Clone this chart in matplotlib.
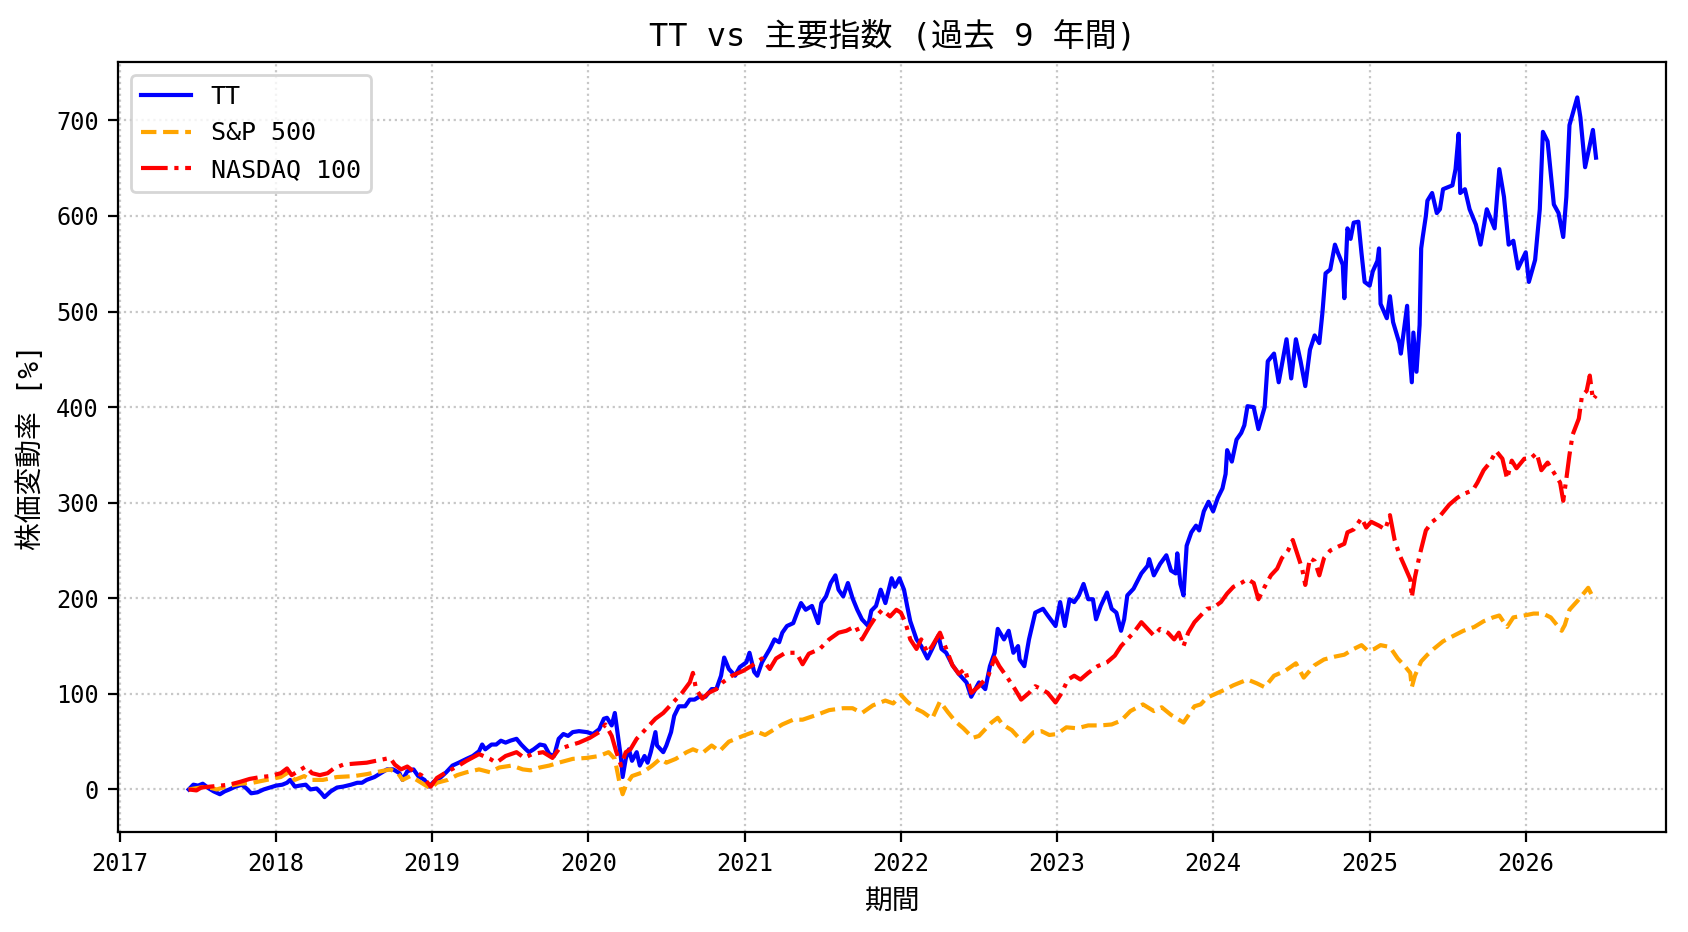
import numpy as np
import pandas as pd
import matplotlib
matplotlib.use("Agg")
import matplotlib.pyplot as plt

plt.rcParams['font.family'] = ['DejaVu Sans Mono', 'Noto Sans CJK JP']

# values (decimal year -> % change)
tt_years = [2017.44, 2017.47, 2017.50, 2017.53, 2017.57, 2017.60, 2017.64, 2017.67, 2017.70, 2017.74,
            2017.78, 2017.81, 2017.84, 2017.88, 2017.92, 2017.96, 2018.00, 2018.04, 2018.07, 2018.09,
            2018.12, 2018.15, 2018.19, 2018.22, 2018.26, 2018.29, 2018.31, 2018.35, 2018.39, 2018.43,
            2018.48, 2018.52, 2018.55, 2018.58, 2018.63, 2018.67, 2018.71, 2018.75, 2018.79, 2018.81,
            2018.84, 2018.88, 2018.91, 2018.95, 2018.98, 2019.01, 2019.05, 2019.09, 2019.13, 2019.17,
            2019.22, 2019.26, 2019.30, 2019.32, 2019.34, 2019.38, 2019.41, 2019.44, 2019.47, 2019.50,
            2019.54, 2019.57, 2019.60, 2019.62, 2019.65, 2019.69, 2019.72, 2019.75, 2019.78, 2019.81,
            2019.84, 2019.87, 2019.90, 2019.94, 2019.99, 2020.03, 2020.07, 2020.10, 2020.12, 2020.15,
            2020.17, 2020.19, 2020.21, 2020.22, 2020.24, 2020.26, 2020.28, 2020.31, 2020.33, 2020.36,
            2020.38, 2020.40, 2020.43, 2020.44, 2020.48, 2020.50, 2020.53, 2020.55, 2020.58, 2020.62,
            2020.65, 2020.68, 2020.71, 2020.75, 2020.79, 2020.82, 2020.85, 2020.87, 2020.90, 2020.94,
            2020.97, 2021.01, 2021.03, 2021.06, 2021.08, 2021.11, 2021.16, 2021.19, 2021.22, 2021.24,
            2021.27, 2021.31, 2021.34, 2021.36, 2021.39, 2021.43, 2021.47, 2021.49, 2021.52, 2021.55,
            2021.58, 2021.60, 2021.63, 2021.66, 2021.69, 2021.72, 2021.75, 2021.79, 2021.81, 2021.84,
            2021.87, 2021.90, 2021.94, 2021.96, 2021.99, 2022.02, 2022.04, 2022.06, 2022.10, 2022.13,
            2022.17, 2022.20, 2022.24, 2022.26, 2022.29, 2022.33, 2022.37, 2022.42, 2022.45, 2022.50,
            2022.54, 2022.57, 2022.60, 2022.62, 2022.66, 2022.69, 2022.72, 2022.75, 2022.76, 2022.79,
            2022.82, 2022.86, 2022.91, 2022.94, 2022.99, 2023.02, 2023.05, 2023.08, 2023.11, 2023.14,
            2023.17, 2023.20, 2023.23, 2023.25, 2023.28, 2023.32, 2023.35, 2023.38, 2023.41, 2023.43,
            2023.45, 2023.49, 2023.54, 2023.58, 2023.59, 2023.62, 2023.66, 2023.70, 2023.73, 2023.76,
            2023.77, 2023.79, 2023.81, 2023.83, 2023.86, 2023.89, 2023.91, 2023.94, 2023.97, 2024.00,
            2024.03, 2024.06, 2024.08, 2024.09, 2024.12, 2024.15, 2024.18, 2024.20, 2024.22, 2024.26,
            2024.29, 2024.33, 2024.35, 2024.39, 2024.42, 2024.47, 2024.50, 2024.53, 2024.56, 2024.59,
            2024.62, 2024.65, 2024.68, 2024.70, 2024.72, 2024.75, 2024.78, 2024.80, 2024.83, 2024.84,
            2024.86, 2024.88, 2024.90, 2024.93, 2024.95, 2024.97, 2025.00, 2025.02, 2025.05, 2025.06,
            2025.07, 2025.11, 2025.13, 2025.15, 2025.17, 2025.19, 2025.20, 2025.24, 2025.25, 2025.27,
            2025.28, 2025.30, 2025.32, 2025.33, 2025.34, 2025.36, 2025.37, 2025.40, 2025.43, 2025.45,
            2025.47, 2025.53, 2025.55, 2025.57, 2025.58, 2025.61, 2025.64, 2025.68, 2025.71, 2025.75,
            2025.80, 2025.83, 2025.86, 2025.89, 2025.92, 2025.95, 2026.00, 2026.02, 2026.06, 2026.09,
            2026.11, 2026.14, 2026.18, 2026.21, 2026.24, 2026.26, 2026.28, 2026.33, 2026.35, 2026.38,
            2026.41, 2026.43, 2026.45]
tt_vals = [0, 5, 4, 6, 1, -2, -5, -2, 0, 3,
           5, 1, -4, -3, 0, 2, 4, 5, 7, 10,
           3, 4, 5, 0, 1, -4, -8, -2, 2, 3,
           5, 7, 7, 10, 13, 17, 21, 21, 17, 10,
           19, 21, 14, 10, 3, 8, 12, 18, 25, 28,
           32, 35, 40, 47, 42, 47, 47, 51, 49, 51,
           53, 47, 42, 39, 42, 47, 46, 37, 35, 53,
           58, 56, 60, 61, 60, 58, 63, 74, 75, 67,
           80, 56, 32, 13, 32, 42, 30, 39, 25, 35,
           28, 39, 60, 46, 39, 46, 60, 77, 87, 87,
           94, 94, 97, 97, 105, 105, 119, 138, 126, 119,
           128, 133, 143, 123, 119, 133, 147, 157, 154, 164,
           171, 174, 187, 195, 188, 192, 174, 195, 202, 216,
           224, 209, 202, 216, 200, 188, 178, 171, 187, 192,
           209, 195, 221, 212, 221, 209, 192, 176, 157, 150,
           137, 147, 161, 147, 143, 130, 121, 112, 97, 112,
           105, 129, 143, 168, 157, 166, 143, 150, 136, 129,
           157, 185, 189, 182, 171, 196, 171, 199, 196, 203,
           215, 199, 199, 178, 192, 206, 189, 185, 166, 178,
           203, 210, 226, 234, 241, 224, 236, 245, 229, 226,
           247, 215, 203, 255, 269, 276, 271, 291, 301, 291,
           305, 315, 330, 355, 343, 366, 373, 381, 401, 400,
           377, 400, 448, 456, 426, 471, 430, 471, 448, 422,
           460, 475, 467, 499, 540, 544, 570, 561, 549, 514,
           587, 576, 593, 594, 561, 531, 527, 542, 553, 566,
           508, 493, 516, 489, 478, 467, 456, 506, 467, 426,
           478, 437, 486, 566, 578, 600, 616, 624, 603, 607,
           628, 632, 649, 686, 624, 628, 607, 591, 570, 607,
           587, 649, 620, 570, 574, 545, 562, 531, 554, 607,
           688, 678, 612, 603, 578, 620, 695, 724, 703, 651,
           674, 690, 661]

sp_years = [2017.44, 2017.55, 2017.62, 2017.68, 2017.77, 2017.85, 2017.94, 2018.03, 2018.08, 2018.12,
            2018.18, 2018.22, 2018.30, 2018.39, 2018.50, 2018.58, 2018.67, 2018.73, 2018.78, 2018.81,
            2018.86, 2018.93, 2018.99, 2019.03, 2019.10, 2019.16, 2019.22, 2019.30, 2019.37, 2019.43,
            2019.51, 2019.58, 2019.63, 2019.69, 2019.75, 2019.81, 2019.90, 2019.99, 2020.07, 2020.13,
            2020.17, 2020.20, 2020.22, 2020.24, 2020.28, 2020.35, 2020.41, 2020.46, 2020.50, 2020.56,
            2020.63, 2020.67, 2020.73, 2020.79, 2020.84, 2020.90, 2020.99, 2021.07, 2021.13, 2021.18,
            2021.24, 2021.31, 2021.37, 2021.46, 2021.54, 2021.63, 2021.69, 2021.75, 2021.82, 2021.90,
            2021.95, 2022.00, 2022.04, 2022.09, 2022.14, 2022.20, 2022.25, 2022.30, 2022.35, 2022.40,
            2022.46, 2022.50, 2022.58, 2022.62, 2022.65, 2022.71, 2022.76, 2022.79, 2022.85, 2022.90,
            2022.95, 2023.00, 2023.06, 2023.13, 2023.20, 2023.28, 2023.35, 2023.41, 2023.47, 2023.55,
            2023.62, 2023.67, 2023.73, 2023.81, 2023.88, 2023.92, 2023.96, 2024.07, 2024.13, 2024.22,
            2024.28, 2024.33, 2024.39, 2024.46, 2024.53, 2024.58, 2024.65, 2024.71, 2024.78, 2024.84,
            2024.90, 2024.95, 2024.99, 2025.03, 2025.07, 2025.13, 2025.18, 2025.22, 2025.26, 2025.27,
            2025.29, 2025.33, 2025.37, 2025.41, 2025.47, 2025.54, 2025.60, 2025.67, 2025.73, 2025.79,
            2025.83, 2025.88, 2025.92, 2025.99, 2026.05, 2026.11, 2026.16, 2026.20, 2026.23, 2026.25,
            2026.28, 2026.33, 2026.37, 2026.40, 2026.43, 2026.45]
sp_vals = [0, 3, 0, 3, 6, 7, 10, 13, 18, 10,
           14, 10, 10, 13, 14, 16, 19, 21, 17, 10,
           14, 7, 1, 7, 10, 15, 18, 21, 18, 23,
           25, 21, 20, 23, 25, 28, 32, 33, 35, 39,
           32, 7, -5, 4, 14, 18, 25, 32, 28, 32,
           39, 42, 38, 46, 40, 50, 56, 61, 57, 62,
           68, 73, 73, 78, 83, 85, 85, 80, 88, 93,
           90, 99, 92, 85, 81, 74, 92, 81, 71, 64,
           54, 56, 70, 75, 68, 62, 53, 50, 60, 61,
           57, 58, 65, 64, 67, 67, 68, 72, 82, 89,
           82, 86, 78, 70, 87, 89, 96, 104, 109, 115,
           111, 107, 119, 124, 132, 117, 130, 136, 139, 141,
           147, 151, 145, 147, 151, 149, 137, 130, 122, 107,
           119, 134, 141, 147, 155, 161, 166, 170, 176, 180,
           182, 170, 180, 182, 184, 184, 180, 172, 166, 172,
           188, 197, 205, 211, 201, 200]

nq_years = [2017.44, 2017.49, 2017.52, 2017.58, 2017.64, 2017.70, 2017.77, 2017.83, 2017.90, 2017.96,
            2018.03, 2018.07, 2018.10, 2018.14, 2018.19, 2018.23, 2018.28, 2018.33, 2018.37, 2018.43,
            2018.50, 2018.58, 2018.67, 2018.73, 2018.76, 2018.80, 2018.84, 2018.88, 2018.93, 2018.97,
            2018.99, 2019.03, 2019.10, 2019.16, 2019.22, 2019.30, 2019.37, 2019.41, 2019.47, 2019.54,
            2019.59, 2019.64, 2019.71, 2019.77, 2019.81, 2019.88, 2019.94, 2020.01, 2020.07, 2020.11,
            2020.15, 2020.18, 2020.21, 2020.24, 2020.27, 2020.31, 2020.35, 2020.39, 2020.43, 2020.48,
            2020.52, 2020.56, 2020.60, 2020.65, 2020.67, 2020.69, 2020.73, 2020.77, 2020.82, 2020.86,
            2020.92, 2020.99, 2021.05, 2021.11, 2021.16, 2021.20, 2021.26, 2021.33, 2021.37, 2021.41,
            2021.48, 2021.54, 2021.60, 2021.65, 2021.71, 2021.75, 2021.80, 2021.84, 2021.88, 2021.93,
            2021.97, 2022.00, 2022.03, 2022.06, 2022.10, 2022.13, 2022.17, 2022.20, 2022.25, 2022.29,
            2022.33, 2022.37, 2022.41, 2022.45, 2022.50, 2022.56, 2022.60, 2022.63, 2022.69, 2022.73,
            2022.77, 2022.82, 2022.86, 2022.90, 2022.94, 2022.99, 2023.03, 2023.07, 2023.11, 2023.15,
            2023.20, 2023.26, 2023.32, 2023.37, 2023.41, 2023.45, 2023.49, 2023.54, 2023.58, 2023.62,
            2023.66, 2023.71, 2023.75, 2023.78, 2023.81, 2023.84, 2023.88, 2023.92, 2023.96, 2024.00,
            2024.05, 2024.09, 2024.13, 2024.18, 2024.22, 2024.26, 2024.29, 2024.33, 2024.37, 2024.41,
            2024.44, 2024.48, 2024.51, 2024.54, 2024.57, 2024.59, 2024.62, 2024.65, 2024.68, 2024.71,
            2024.75, 2024.80, 2024.84, 2024.86, 2024.90, 2024.95, 2024.98, 2025.01, 2025.06, 2025.10,
            2025.13, 2025.16, 2025.19, 2025.22, 2025.26, 2025.27, 2025.29, 2025.32, 2025.36, 2025.40,
            2025.45, 2025.51, 2025.56, 2025.60, 2025.66, 2025.69, 2025.73, 2025.77, 2025.81, 2025.85,
            2025.88, 2025.91, 2025.94, 2025.99, 2026.03, 2026.07, 2026.10, 2026.14, 2026.19, 2026.22,
            2026.24, 2026.26, 2026.28, 2026.30, 2026.34, 2026.36, 2026.39, 2026.41, 2026.43, 2026.45]
nq_vals = [0, -1, 2, 3, 4, 5, 8, 11, 13, 14,
           17, 22, 15, 19, 24, 17, 15, 17, 22, 26,
           27, 28, 31, 33, 26, 21, 24, 19, 15, 7,
           3, 12, 19, 24, 30, 37, 32, 28, 35, 39,
           33, 37, 39, 33, 42, 46, 49, 54, 60, 68,
           56, 39, 25, 39, 42, 53, 60, 67, 74, 80,
           87, 94, 101, 112, 122, 105, 95, 101, 105, 112,
           119, 124, 130, 137, 126, 137, 143, 143, 131, 142,
           147, 157, 164, 166, 171, 157, 171, 181, 188, 181,
           188, 185, 174, 157, 147, 157, 143, 150, 164, 147,
           130, 121, 126, 101, 108, 119, 138, 129, 115, 105,
           94, 101, 108, 105, 101, 91, 101, 115, 119, 115,
           122, 129, 133, 140, 150, 157, 164, 175, 168, 161,
           168, 164, 157, 164, 150, 164, 175, 182, 189, 190,
           196, 205, 212, 216, 220, 216, 199, 212, 224, 231,
           242, 250, 261, 246, 231, 214, 242, 239, 224, 242,
           250, 254, 257, 269, 272, 284, 274, 280, 276, 272,
           287, 261, 246, 235, 220, 201, 222, 245, 271, 280,
           286, 298, 305, 309, 313, 321, 334, 342, 354, 346,
           325, 344, 336, 346, 346, 352, 334, 342, 329, 321,
           302, 325, 350, 371, 388, 412, 417, 433, 408, 412]


def to_dates(years):
    years = np.asarray(years, dtype=float)
    whole = np.floor(years).astype(int)
    start = pd.to_datetime([f"{y}-01-01" for y in whole])
    return start + pd.to_timedelta((years - whole) * 365.25, unit='D')


fig = plt.figure(figsize=(1688 / 200, 932 / 200), dpi=200)
ax = fig.add_axes([0.0701, 0.1072, 0.9171, 0.8258])

ax.plot(to_dates(tt_years), tt_vals, color='blue', linestyle='-', label='TT')
ax.plot(to_dates(sp_years), sp_vals, color='orange', linestyle='--', label='S&P 500')
ax.plot(to_dates(nq_years), nq_vals, color='red', linestyle='-.', label='NASDAQ 100')

ax.set_title('TT vs 主要指数 (過去 9 年間)', fontsize=11.5)
ax.set_xlabel('期間')
ax.set_ylabel('株価変動率 [%]')
ax.tick_params(labelsize=8.5)
ax.grid(True, linestyle=':', alpha=0.7)
ax.legend(loc='upper left', fontsize=9)

fig.savefig('out.png', dpi=200)
